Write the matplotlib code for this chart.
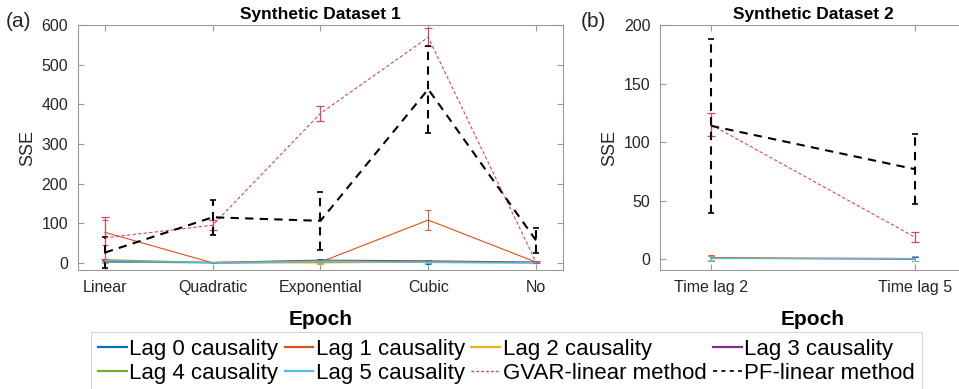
import numpy as np
import matplotlib
matplotlib.use('Agg')
import matplotlib.pyplot as plt
from matplotlib.lines import Line2D

plt.rcParams['font.family'] = ['Liberation Sans', 'DejaVu Sans']

# ---- data ----
cats_a = ['Linear', 'Quadratic', 'Exponential', 'Cubic', 'No']
cats_b = ['Time lag 2', 'Time lag 5']

lag_names = ['Lag 0 causality', 'Lag 1 causality', 'Lag 2 causality',
             'Lag 3 causality', 'Lag 4 causality', 'Lag 5 causality']
lag_colors = ['#0072BD', '#D95319', '#EDB120', '#7E2F8E', '#77AC30', '#4DBEEE']

# dataset 1
lag_a = [[2, 0, 1, 1, 0],
         [77, 0, 2, 108, 2],
         [3, 1, 0, 2, 1],
         [5, 1, 7, 5, 2],
         [8, 1, 5, 3, 1],
         [6, 0, 3, 1, 0]]
lag_a_err = [[3, 1, 3, 3, 1],
             [31, 1, 2, 25, 1],
             [3, 1, 2, 3, 1],
             [3, 1, 4, 3, 1],
             [3, 1, 3, 3, 1],
             [3, 1, 3, 2, 1]]
gvar_a = [63, 95, 377, 569, 2]
gvar_a_err = [52, 12, 19, 23, 2]
pf_a = [26, 115, 106, 438, 57]
pf_a_err = [38, 44, 74, 110, 32]

# dataset 2
lag_b = [[1.0, 0.5], [1.5, 0.8], [1.2, 0.6], [1.0, 0.5], [0.8, 0.7], [1.0, 1.0]]
lag_b_err = [[2, 2], [2, 2], [2, 2], [2, 2], [2, 2], [2, 2]]
gvar_b = [115, 19]
gvar_b_err = [10, 4.5]
pf_b = [114, 77]
pf_b_err = [74, 30]

gvar_color = '#D4456A'
spine_color = '#9a9a9a'
text_color = '#262626'

fig = plt.figure(figsize=(9.59, 3.89), dpi=100)
ax1 = fig.add_axes([0.0813, 0.3059, 0.5057, 0.6298])
ax2 = fig.add_axes([0.6882, 0.3059, 0.3191, 0.6298])


def draw(ax, cats, lags, lags_err, gv, gv_err, pf, pf_err):
    x = np.arange(1, len(cats) + 1)
    for vals, errs, c in zip(lags, lags_err, lag_colors):
        ax.errorbar(x, vals, yerr=errs, color=c, lw=0.8, elinewidth=0.7,
                    capsize=2.5, capthick=0.7)
    ax.errorbar(x, gv, yerr=gv_err, color=gvar_color, lw=0.8,
                ls=(0, (3, 2)), elinewidth=0.9, capsize=3, capthick=0.9)
    eb = ax.errorbar(x, pf, yerr=pf_err, color='black', lw=1.5,
                     ls=(0, (4, 3)), elinewidth=1.5, capsize=2.5, capthick=1.2)
    eb[2][0].set_linestyle((0, (4, 3)))

    ax.set_xticks(x)
    ax.set_xticklabels(cats)
    ax.set_xlim(0.75, len(cats) + 0.25)
    ax.set_xlabel('Epoch', fontsize=15, fontweight='bold', labelpad=11)
    ax.set_ylabel('SSE', fontsize=13, color=text_color)
    for s in ax.spines.values():
        s.set_color(spine_color)
        s.set_linewidth(0.8)
    ax.tick_params(direction='in', top=True, right=True, length=4,
                   color=spine_color, labelsize=11.5, labelcolor=text_color,
                   pad=7)


draw(ax1, cats_a, lag_a, lag_a_err, gvar_a, gvar_a_err, pf_a, pf_a_err)
ax1.set_ylim(-18, 600)
ax1.set_yticks(np.arange(0, 601, 100))
ax1.set_title('Synthetic Dataset 1', fontsize=12.5, fontweight='bold', pad=4)

draw(ax2, cats_b, lag_b, lag_b_err, gvar_b, gvar_b_err, pf_b, pf_b_err)
ax2.set_ylim(-9, 200)
ax2.set_yticks(np.arange(0, 201, 50))
ax2.set_title('Synthetic Dataset 2', fontsize=12.5, fontweight='bold', pad=4)

fig.text(0.006, 0.945, '(a)', fontsize=15, color=text_color, va='center')
fig.text(0.606, 0.945, '(b)', fontsize=15, color=text_color, va='center')

# legend proxies, row-wise order with 4 columns
handles = [Line2D([], [], color=c, lw=1.6) for c in lag_colors]
handles.append(Line2D([], [], color=gvar_color, lw=1.0, ls=(0, (2, 1.5))))
handles.append(Line2D([], [], color='black', lw=1.2, ls=(0, (2.5, 2.5))))
labels = lag_names + ['GVAR-linear method', 'PF-linear method']
order = [0, 4, 1, 5, 2, 6, 3, 7]
leg = fig.legend([handles[i] for i in order], [labels[i] for i in order],
                 ncol=4, loc='upper left', bbox_to_anchor=(0.095, 0.146),
                 fontsize=16, frameon=True, fancybox=False, handlelength=1.3,
                 handletextpad=0.1, columnspacing=0.3, borderpad=0.3,
                 labelspacing=0.15, borderaxespad=0)
leg.get_frame().set_edgecolor('#cccccc')
leg.get_frame().set_linewidth(0.8)

fig.savefig('out.png', dpi=100)
